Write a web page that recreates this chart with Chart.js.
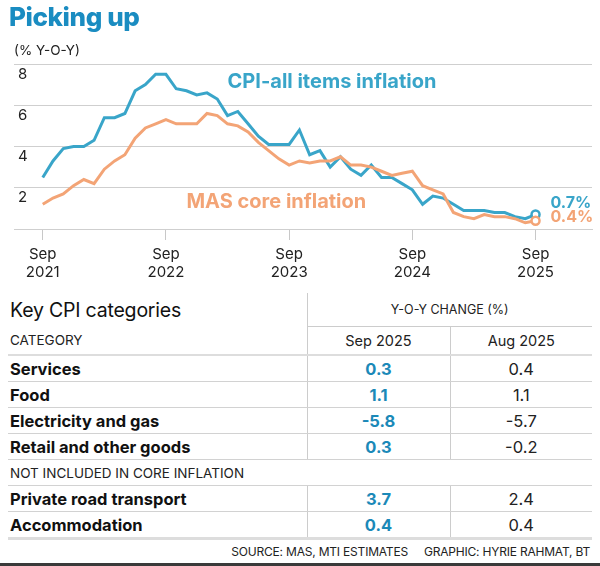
<!DOCTYPE html>
<html>
<head>
<meta charset="utf-8">
<script src="https://cdn.jsdelivr.net/npm/chart.js@4.4.1/dist/chart.umd.min.js"></script>
<style>
  body { margin: 0; width: 600px; height: 566px; background: #fff; font-family: Inter, sans-serif; color: #1a1a1a; position: relative; overflow: hidden; }
  #chartBox { position: absolute; left: 0; top: 0; width: 600px; height: 290px; }
  #title { position: absolute; left: 9px; top: 1px; font-size: 26px; font-weight: 800; color: #1a8cc1; letter-spacing: -0.4px; }
  #unit { position: absolute; left: 14px; top: 42px; font-size: 13.5px; color: #222; }
  #cpi { position: absolute; left: 8px; top: 293px; width: 584px; border-collapse: collapse; table-layout: fixed; }
  #cpi td { padding: 0 2px; white-space: nowrap; }
  #cpi tr.top td { height: 33px; }
  #cpi tr.top td.k { font-size: 19.5px; color: #111; letter-spacing: -0.2px; }
  #cpi tr.top td.yoy { font-size: 12.5px; text-align: center; border-left: 1px solid #ccc; color: #222; }
  #cpi tr.head td { height: 27px; font-size: 13.5px; color: #222; border-bottom: 2px solid #ddd; }
  #cpi tr.head td.c { text-align: center; font-size: 14.5px; border-top: 1px solid #ccc; border-left: 1px solid #ccc; }
  #cpi tr.row td { height: 25px; font-size: 16.5px; font-weight: 700; color: #111; border-bottom: 1px solid #d2d2d2; }
  #cpi tr.row td.s { text-align: center; color: #1b89b8; border-left: 1px solid #ccc; }
  #cpi tr.row td.a { text-align: center; font-weight: 400; color: #222; border-left: 1px solid #ccc; }
  #cpi tr.sect td { height: 25px; font-size: 13.5px; color: #222; border-bottom: 1px solid #d2d2d2; }
  #cpi tr.last td { border-bottom: 3px solid #ddd; }
  #source { position: absolute; right: 10px; top: 544px; font-size: 12px; color: #222; letter-spacing: -0.2px; }
  #source span + span { margin-left: 16px; }
  #bar { position: absolute; left: 0; top: 563px; width: 600px; height: 3px; background: #3a3a3a; }
</style>
</head>
<body>
<div id="chartBox"><canvas id="chart"></canvas></div>
<div id="title">Picking up</div>
<div id="unit">(% Y-O-Y)</div>
<table id="cpi">
  <colgroup><col style="width:299px"><col style="width:143px"><col style="width:142px"></colgroup>
  <tbody id="rows"></tbody>
</table>
<div id="source"><span>SOURCE: MAS, MTI ESTIMATES</span><span>GRAPHIC: HYRIE RAHMAT, BT</span></div>
<div id="bar"></div>
<script>
// Monthly, Sep 2021 .. Sep 2025
const cpiAll = [2.5, 3.3, 3.9, 4.0,
  4.0, 4.3, 5.4, 5.4, 5.6, 6.7, 7.0, 7.5, 7.5, 6.8, 6.7, 6.5,
  6.6, 6.3, 5.5, 5.7, 5.1, 4.5, 4.1, 4.1, 4.1, 4.8, 3.6, 3.8,
  3.0, 3.5, 2.9, 2.6, 3.1, 2.5, 2.5, 2.2, 1.9, 1.2, 1.6, 1.5,
  1.2, 0.9, 0.9, 0.9, 0.8, 0.8, 0.6, 0.5, 0.7];
const masCore = [1.2, 1.5, 1.7, 2.1,
  2.4, 2.2, 2.9, 3.3, 3.6, 4.4, 4.9, 5.1, 5.3, 5.1, 5.1, 5.1,
  5.6, 5.5, 5.1, 5.0, 4.7, 4.2, 3.8, 3.4, 3.1, 3.3, 3.2, 3.3,
  3.3, 3.5, 3.1, 3.1, 3.0, 2.8, 2.6, 2.7, 2.8, 2.1, 1.9, 1.7,
  0.8, 0.6, 0.5, 0.7, 0.6, 0.6, 0.5, 0.3, 0.4];
const xTickIdx = [0, 12, 24, 36, 48];
const xTickLabels = [['Sep', '2021'], ['Sep', '2022'], ['Sep', '2023'], ['Sep', '2024'], ['Sep', '2025']];
const yTicks = [2, 4, 6, 8];

// Table
const categories = ['Services', 'Food', 'Electricity and gas', 'Retail and other goods', 'Private road transport', 'Accommodation'];
const sep2025 = [0.3, 1.1, -5.8, 0.3, 3.7, 0.4];
const aug2025 = [0.4, 1.1, -5.7, -0.2, 2.4, 0.4];
const sectionAfter = 3;
const sectionLabel = 'NOT INCLUDED IN CORE INFLATION';

const TEAL = '#39a5c9';
const ORANGE = '#f3a476';
const last = cpiAll.length - 1;

// build table rows
let html = '<tr class="top"><td class="k">Key CPI categories</td><td class="yoy" colspan="2">Y-O-Y CHANGE (%)</td></tr>' +
  '<tr class="head"><td>CATEGORY</td><td class="c">Sep 2025</td><td class="c">Aug 2025</td></tr>';
categories.forEach((c, i) => {
  const cls = i === categories.length - 1 ? 'row last' : 'row';
  html += '<tr class="' + cls + '"><td>' + c + '</td><td class="s">' + sep2025[i].toFixed(1) + '</td><td class="a">' + aug2025[i].toFixed(1) + '</td></tr>';
  if (i === sectionAfter) html += '<tr class="sect"><td colspan="3">' + sectionLabel + '</td></tr>';
});
document.getElementById('rows').innerHTML = html;

const annotate = {
  id: 'annotate',
  afterDraw(chart) {
    const { ctx, scales: { x, y } } = chart;
    ctx.save();
    ctx.textBaseline = 'middle';
    ctx.textAlign = 'left';
    ctx.fillStyle = '#222';
    ctx.font = '15px Inter';
    yTicks.forEach(v => ctx.fillText(String(v), 18, y.getPixelForValue(v) + 10));

    ctx.font = 'bold 20px Inter';
    ctx.fillStyle = TEAL;
    ctx.fillText('CPI-all items inflation', x.getPixelForValue(18), y.getPixelForValue(7.15));
    ctx.fillStyle = ORANGE;
    ctx.fillText('MAS core inflation', x.getPixelForValue(14), y.getPixelForValue(1.3));

    // end values
    ctx.font = 'bold 16px Inter';
    const ex = x.getPixelForValue(last) + 15;
    ctx.fillStyle = TEAL;
    ctx.fillText(cpiAll[last].toFixed(1) + '%', ex, y.getPixelForValue(cpiAll[last]) - 11);
    ctx.fillStyle = ORANGE;
    ctx.fillText(masCore[last].toFixed(1) + '%', ex, y.getPixelForValue(masCore[last]) - 4);
    ctx.restore();
  }
};

const endPoint = (ctx) => ctx.dataIndex === last ? 4 : 0;

new Chart(document.getElementById('chart'), {
  type: 'line',
  data: {
    datasets: [
      { label: 'MAS core inflation', data: masCore.map((v, i) => ({ x: i, y: v })), borderColor: ORANGE, borderWidth: 3,
        pointRadius: endPoint, pointBackgroundColor: '#fff', pointBorderColor: ORANGE, pointBorderWidth: 2.5 },
      { label: 'CPI-all items inflation', data: cpiAll.map((v, i) => ({ x: i, y: v })), borderColor: TEAL, borderWidth: 3,
        pointRadius: endPoint, pointBackgroundColor: '#fff', pointBorderColor: TEAL, pointBorderWidth: 2.5 }
    ]
  },
  options: {
    responsive: true,
    maintainAspectRatio: false,
    animation: false,
    layout: { padding: { top: 64, left: 14, right: 8, bottom: 0 } },
    plugins: { legend: { display: false }, tooltip: { enabled: false } },
    scales: {
      x: {
        type: 'linear', min: -2.8, max: 53.5,
        afterBuildTicks: (s) => { s.ticks = xTickIdx.map(v => ({ value: v })); },
        afterFit: (s) => { s.height = 61; },
        ticks: { autoSkip: false, maxRotation: 0, padding: 5, color: '#222', font: { family: 'Inter', size: 15 },
          callback: (v) => xTickLabels[xTickIdx.indexOf(v)] },
        grid: { drawOnChartArea: false, tickLength: 11, color: '#c8c8c8' },
        border: { display: true, color: '#cfcfcf' }
      },
      y: {
        min: 0, max: 8,
        ticks: { stepSize: 2, display: false },
        grid: { color: '#cfcfcf', drawTicks: false },
        border: { display: false }
      }
    }
  },
  plugins: [annotate]
});
</script>
</body>
</html>
